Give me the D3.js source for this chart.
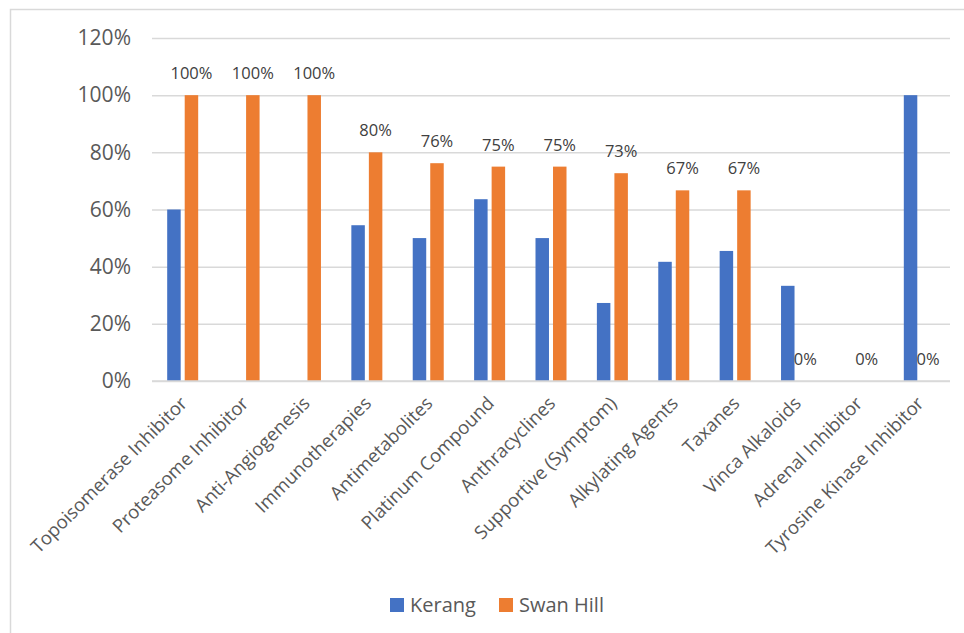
<!DOCTYPE html>
<html>
<head>
<meta charset="utf-8">
<script src="https://cdn.jsdelivr.net/npm/d3@7/dist/d3.min.js"></script>
<style>
  html, body { margin: 0; padding: 0; background: #fff; }
  svg { display: block; }
</style>
</head>
<body>
<svg id="chart" width="964" height="633"></svg>
<script>
// Share of patients by drug class, per treatment site
const categories = [
  "Topoisomerase Inhibitor", "Proteasome Inhibitor", "Anti-Angiogenesis",
  "Immunotherapies", "Antimetabolites", "Platinum Compound", "Anthracyclines",
  "Supportive (Symptom)", "Alkylating Agents", "Taxanes", "Vinca Alkaloids",
  "Adrenal Inhibitor", "Tyrosine Kinase Inhibitor"
];
const seriesNames = ["Kerang", "Swan Hill"];
const kerang   = [0.60, 0, 0, 0.545, 0.50, 0.636, 0.50, 0.273, 0.417, 0.455, 0.333, 0, 1.00];
const swanHill = [1.00, 1.00, 1.00, 0.80, 0.762, 0.75, 0.75, 0.727, 0.667, 0.667, 0, 0, 0];
const yTicks = [0, 0.2, 0.4, 0.6, 0.8, 1.0, 1.2];
const colors = ["#4472c4", "#ed7d31"];

const svg = d3.select("#chart");

// outer chart frame
svg.append("rect")
  .attr("x", 10.5).attr("y", 9.5)
  .attr("width", 1000).attr("height", 1000)
  .attr("fill", "none").attr("stroke", "#d9d9d9").attr("stroke-width", 1.5);

const plot = { left: 152, right: 950, top: 38, bottom: 381 };

const x0 = d3.scaleBand().domain(categories).range([plot.left, plot.right]).padding(0);
const bw = x0.bandwidth();
const x1 = d3.scaleBand().domain(seriesNames)
  .range([bw / 2 - 15.5, bw / 2 + 15.5]).paddingInner(0.23).paddingOuter(0);
const y = d3.scaleLinear().domain([0, 1.2]).range([plot.bottom, plot.top]);

// gridlines and value axis labels
const yAxis = d3.axisLeft(y).tickValues(yTicks).tickFormat(d3.format(".0%"))
  .tickSize(-(plot.right - plot.left)).tickPadding(21);
const gy = svg.append("g").attr("transform", `translate(${plot.left},0)`).call(yAxis);
gy.select(".domain").remove();
gy.selectAll(".tick line").attr("stroke", "#d9d9d9").attr("stroke-width", 1.5);
gy.selectAll(".tick text")
  .attr("fill", "#595959")
  .style("font-family", "'Open Sans', sans-serif")
  .style("font-size", "21px");

// bars
const rows = categories.map((c, i) => ({ cat: c, vals: [kerang[i], swanHill[i]] }));
const groups = svg.append("g").selectAll("g").data(rows).join("g")
  .attr("transform", d => `translate(${x0(d.cat)},0)`);

groups.selectAll("rect")
  .data(d => d.vals.map((v, k) => ({ key: seriesNames[k], v, k })))
  .join("rect")
  .attr("x", d => x1(d.key))
  .attr("width", x1.bandwidth())
  .attr("y", d => y(d.v))
  .attr("height", d => y(0) - y(d.v))
  .attr("fill", d => colors[d.k]);

// value labels on the Swan Hill series
groups.append("text")
  .attr("x", x1("Swan Hill") + x1.bandwidth() / 2)
  .attr("y", d => y(d.vals[1]) - 16)
  .attr("text-anchor", "middle")
  .attr("fill", "#404040")
  .style("font-family", "'Open Sans', sans-serif")
  .style("font-size", "16.5px")
  .text(d => d3.format(".0%")(d.vals[1]));

// baseline
svg.append("line")
  .attr("x1", plot.left).attr("x2", plot.right)
  .attr("y1", y(0)).attr("y2", y(0))
  .attr("stroke", "#d9d9d9").attr("stroke-width", 1.5);

// rotated category labels
svg.append("g").selectAll("text").data(categories).join("text")
  .attr("transform", d => `translate(${x0(d) + bw / 2 + 1},${plot.bottom + 19}) rotate(-45)`)
  .attr("text-anchor", "end")
  .attr("dy", "0.35em")
  .attr("fill", "#595959")
  .style("font-family", "'Open Sans', sans-serif")
  .style("font-size", "18.5px")
  .text(d => d);

// legend
const legendX = [390, 499];
const legend = svg.append("g").selectAll("g").data(seriesNames).join("g")
  .attr("transform", (d, i) => `translate(${legendX[i]},598)`);
legend.append("rect").attr("width", 14).attr("height", 14).attr("fill", (d, i) => colors[i]);
legend.append("text")
  .attr("x", 20).attr("y", 7).attr("dy", "0.35em")
  .attr("fill", "#595959")
  .style("font-family", "'Open Sans', sans-serif")
  .style("font-size", "20px")
  .text(d => d);
</script>
</body>
</html>
